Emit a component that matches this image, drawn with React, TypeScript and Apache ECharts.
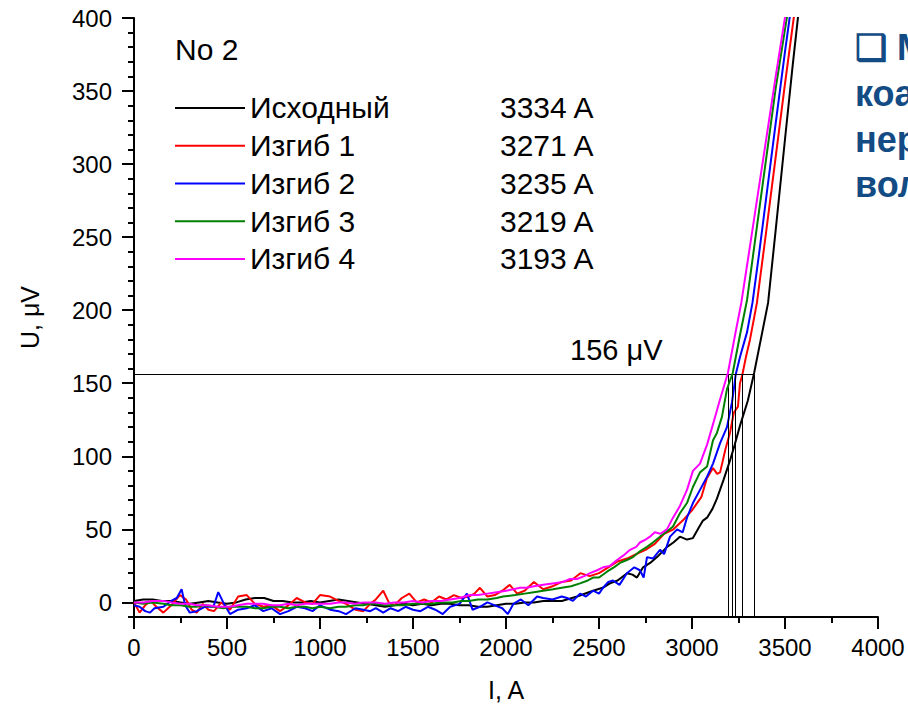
import React, { useEffect, useRef } from "react";
import * as echarts from "echarts";

// ---- data ----
const seriesNames = ["Исходный", "Изгиб 1", "Изгиб 2", "Изгиб 3", "Изгиб 4"];
const criticalCurrents = [3334, 3271, 3235, 3219, 3193];
const seriesColors = ["#000000", "#ff0000", "#0000ff", "#008000", "#ff00ff"];
const criterionLevel = 156;
const criterionLabel = "156 μV";
const panelTitle = "No 2";
const sideText = ["❑ М", "коа", "нер", "вол"];

const yMajorTicks = [0, 50, 100, 150, 200, 250, 300, 350, 400];
const yMinorTicks = [-10, 10, 20, 30, 40, 60, 70, 80, 90, 110, 120, 130, 140, 160, 170, 180, 190, 210, 220, 230, 240, 260, 270, 280, 290, 310, 320, 330, 340, 360, 370, 380, 390];

const initialData = [
  [0, 1], [50, 2], [100, 2], [150, 1], [200, 1], [250, 0], [300, -1], [350, 0], [400, 1], [450, 0], [500, -1], [550, 0], [600, 2], [650, 3], [700, 3], [750, 1], [800, 1], [850, 0], [900, 0], [950, 1], [1000, 0], [1050, 1], [1100, 2], [1150, 1], [1200, 0], [1250, -1], [1300, -2], [1350, -3], [1400, -2], [1450, -1], [1500, -2], [1550, -1], [1600, -2], [1650, -1], [1700, -1], [1750, -2], [1800, -2], [1850, -3], [1900, -3], [1950, -2], [2000, -1], [2050, -1], [2100, 0], [2150, 0], [2200, 1], [2250, 1], [2300, 1], [2382, 4], [2468, 8], [2520, 10], [2559, 13], [2600, 15], [2651, 20], [2680, 19], [2704, 17], [2737, 24], [2775, 27], [2812, 31], [2866, 38], [2900, 41], [2935, 45], [2973, 43], [3005, 44], [3040, 52], [3059, 56], [3081, 58], [3110, 64], [3134, 71], [3170, 84], [3204, 97], [3230, 108], [3258, 121], [3300, 138], [3334, 157], [3370, 180], [3409, 205], [3450, 255], [3500, 317], [3540, 366], [3572, 403],
];

const bend1Data = [
  [0, 0], [30, -7], [60, -2], [90, 1], [120, -3], [158, -7], [200, -2], [247, 5], [280, 2], [310, -5], [337, -7], [370, -1], [400, -5], [430, -6], [470, 0], [516, -5], [560, 4], [606, 5], [650, -1], [695, -3], [740, -2], [785, -6], [830, -2], [875, 3], [920, 0], [960, -1], [1000, 5], [1054, 4], [1100, 1], [1140, -1], [1190, -5], [1233, -6], [1270, -1], [1300, 2], [1340, 8], [1370, 0], [1400, -2], [1440, 3], [1480, 6], [1520, 0], [1560, 2], [1600, 0], [1640, 4], [1680, 2], [1720, 5], [1760, 3], [1800, 4], [1830, 6], [1860, 10], [1900, 4], [1940, 5], [1980, 8], [2020, 12], [2060, 6], [2100, 8], [2150, 14], [2200, 9], [2250, 11], [2300, 14], [2350, 15], [2400, 20], [2450, 18], [2500, 20], [2550, 24], [2600, 28], [2650, 30], [2700, 33], [2750, 36], [2800, 40], [2850, 47], [2900, 50], [2950, 56], [3000, 63], [3050, 72], [3080, 85], [3113, 92], [3135, 88], [3151, 89], [3180, 105], [3204, 116], [3225, 130], [3247, 134], [3258, 150], [3271, 156], [3290, 168], [3312, 180], [3349, 205], [3400, 255], [3450, 305], [3500, 355], [3549, 402],
];

const bend2Data = [
  [0, -2], [30, -3], [60, -6], [86, -7], [110, -4], [158, -3], [200, 1], [230, 3], [256, 9], [275, -2], [300, -7], [337, -6], [380, -3], [427, -3], [453, 7], [480, 0], [516, -8], [560, -5], [606, -4], [650, -2], [695, -6], [740, -4], [785, -8], [830, -6], [875, -3], [920, -4], [960, -6], [1000, -2], [1054, -5], [1100, -6], [1140, -8], [1190, -4], [1233, -5], [1270, -6], [1300, -4], [1340, -7], [1380, -4], [1420, -6], [1460, -3], [1500, -5], [1540, -6], [1580, -3], [1620, -5], [1660, -8], [1700, -3], [1750, -1], [1790, 6], [1820, -5], [1860, -3], [1900, 0], [1940, -2], [1980, -4], [2010, -8], [2040, -1], [2080, 2], [2120, -2], [2167, 4], [2200, 3], [2250, 2], [2300, 4], [2328, 3], [2360, 1], [2398, 6], [2430, 4], [2468, 8], [2500, 6], [2522, 10], [2550, 14], [2575, 15], [2610, 12], [2650, 20], [2690, 24], [2720, 22], [2740, 17], [2758, 31], [2790, 30], [2828, 36], [2850, 33], [2882, 45], [2920, 50], [2950, 48], [2973, 58], [3005, 68], [3043, 77], [3081, 86], [3113, 95], [3151, 109], [3188, 120], [3215, 137], [3226, 147], [3235, 156], [3258, 168], [3296, 185], [3325, 205], [3360, 238], [3400, 278], [3450, 328], [3500, 377], [3527, 402],
];

const bend3Data = [
  [0, 0], [50, -1], [100, 0], [158, -1], [200, -2], [250, -2], [300, -3], [337, -3], [380, -2], [430, -3], [480, -4], [516, -3], [560, -3], [606, -3], [650, -4], [695, -4], [740, -3], [785, -3], [830, -4], [875, -3], [920, -3], [960, -4], [1000, -3], [1054, -4], [1100, -3], [1140, -3], [1190, -2], [1233, -2], [1270, -1], [1300, -1], [1350, -2], [1400, -2], [1446, -2], [1500, -1], [1550, -1], [1600, -1], [1650, 0], [1715, 0], [1760, 1], [1800, 1], [1850, 2], [1900, 2], [1950, 3], [1984, 4], [2050, 5], [2100, 6], [2150, 7], [2200, 8], [2253, 9], [2300, 10], [2350, 11], [2398, 13], [2440, 15], [2468, 17], [2500, 17], [2543, 21], [2580, 24], [2613, 27], [2650, 29], [2683, 31], [2720, 35], [2758, 38], [2790, 41], [2828, 45], [2860, 48], [2898, 52], [2935, 61], [2973, 68], [3005, 79], [3043, 89], [3081, 93], [3113, 111], [3134, 116], [3161, 127], [3188, 146], [3219, 157], [3258, 183], [3296, 207], [3350, 258], [3400, 305], [3450, 352], [3512, 402],
];

const bend4Data = [
  [0, 0], [50, 0], [100, 1], [158, 1], [200, 0], [250, -1], [300, -1], [337, -2], [400, -2], [450, -3], [516, -3], [560, -2], [606, -1], [650, -1], [695, -1], [740, -2], [785, -2], [830, -1], [875, -2], [920, -1], [960, -1], [1000, -1], [1054, -1], [1100, 0], [1140, 0], [1190, -1], [1233, 0], [1270, 0], [1300, 0], [1350, -1], [1400, 0], [1450, 0], [1500, 1], [1550, 0], [1600, 1], [1650, 1], [1700, 2], [1750, 3], [1806, 5], [1850, 5], [1900, 6], [1950, 7], [2000, 8], [2040, 9], [2075, 10], [2110, 10], [2150, 11], [2200, 12], [2250, 13], [2306, 14], [2344, 16], [2382, 16], [2420, 18], [2452, 20], [2490, 22], [2522, 24], [2559, 25], [2597, 29], [2630, 32], [2667, 36], [2700, 38], [2720, 41], [2750, 43], [2774, 45], [2800, 48], [2830, 47], [2865, 50], [2898, 58], [2935, 66], [2973, 77], [3005, 90], [3043, 95], [3081, 108], [3113, 122], [3151, 139], [3193, 157], [3230, 182], [3265, 205], [3300, 234], [3350, 276], [3400, 318], [3450, 360], [3502, 402],
];

const allData = [initialData, bend1Data, bend2Data, bend3Data, bend4Data];

const FONT = "'Liberation Sans', Arial, sans-serif";

export default function App() {
  const ref = useRef<HTMLDivElement>(null);

  useEffect(() => {
    if (!ref.current) return;
    const chart = echarts.init(ref.current, null, { renderer: "svg" });

    const tickStyle = { color: "#000", width: 2 };
    const lineSeries = allData.map((d, i) => ({
      name: seriesNames[i],
      type: "line",
      data: d,
      symbol: "none",
      showSymbol: false,
      clip: true,
      lineStyle: { color: seriesColors[i], width: 2 },
      itemStyle: { color: seriesColors[i] },
      z: 2 + i,
    }));

    const maxIc = Math.max(...criticalCurrents);
    const markData: any[] = [
      [{ coord: [0, criterionLevel] }, { coord: [maxIc, criterionLevel] }],
      ...criticalCurrents.map((c) => [{ coord: [c, criterionLevel] }, { coord: [c, -10] }]),
    ];

    const option: any = {
      animation: false,
      backgroundColor: "#ffffff",
      grid: { left: 134, top: 18, right: 30, bottom: 92, containLabel: false },
      legend: {
        orient: "vertical",
        left: 170,
        top: 84,
        icon: "rect",
        itemWidth: 70,
        itemHeight: 2,
        itemGap: 0,
        data: seriesNames,
        formatter: (name: string) => {
          const idx = seriesNames.indexOf(name);
          return `{n|${name}}{v|${criticalCurrents[idx]} A}`;
        },
        textStyle: {
          fontFamily: FONT,
          fontSize: 30,
          color: "#000",
          lineHeight: 37.75,
          rich: {
            n: { width: 250, fontSize: 30, fontFamily: FONT, color: "#000", lineHeight: 37.75 },
            v: { fontSize: 30, fontFamily: FONT, color: "#000", lineHeight: 37.75 },
          },
        },
      },
      xAxis: {
        type: "value",
        min: 0,
        max: 4000,
        interval: 500,
        name: "I, A",
        nameLocation: "middle",
        nameGap: 60,
        nameTextStyle: { fontFamily: FONT, fontSize: 25, color: "#000" },
        axisLine: { show: true, onZero: false, lineStyle: tickStyle },
        axisTick: { show: true, length: 12, lineStyle: tickStyle },
        minorTick: { show: true, splitNumber: 2, length: 6, lineStyle: tickStyle },
        splitLine: { show: false },
        minorSplitLine: { show: false },
        axisLabel: { color: "#000", fontSize: 24, fontFamily: FONT, margin: 18, formatter: (v: number) => String(v) },
      },
      yAxis: [
        {
          type: "value",
          min: -10,
          max: 400,
          position: "left",
          name: "U, μV",
          nameLocation: "middle",
          nameGap: 92,
          nameRotate: 90,
          nameTextStyle: { fontFamily: FONT, fontSize: 25, color: "#000" },
          axisLine: { show: true, onZero: false, lineStyle: tickStyle },
          axisTick: { show: true, length: 12, lineStyle: tickStyle, customValues: yMajorTicks },
          axisLabel: { color: "#000", fontSize: 24, fontFamily: FONT, margin: 22, customValues: yMajorTicks, formatter: (v: number) => String(v) },
          splitLine: { show: false },
        },
        {
          type: "value",
          min: -10,
          max: 400,
          position: "left",
          axisLine: { show: false },
          axisTick: { show: true, length: 6, lineStyle: tickStyle, customValues: yMinorTicks },
          axisLabel: { show: false },
          splitLine: { show: false },
        },
      ],
      series: [
        {
          name: "criterion",
          type: "line",
          data: [],
          z: 10,
          markLine: {
            silent: true,
            symbol: ["none", "none"],
            label: { show: false },
            lineStyle: { color: "#000", width: 1, type: "solid" },
            data: markData,
          },
        },
        ...lineSeries,
      ],
      graphic: [
        {
          type: "text",
          x: 175,
          y: 49,
          style: { text: panelTitle, fontFamily: FONT, fontSize: 30, fill: "#000", verticalAlign: "middle" },
        },
        {
          type: "text",
          x: 570,
          y: 350,
          style: { text: criterionLabel, fontFamily: FONT, fontSize: 29, fill: "#000", verticalAlign: "middle" },
        },
        ...sideText.map((t, i) => ({
          type: "text",
          x: 855,
          y: [47, 93, 139, 184][i],
          style: { text: t, fontFamily: FONT, fontSize: 36, fontWeight: "bold", fill: "#134b84", verticalAlign: "middle" },
        })),
      ],
    };

    chart.setOption(option);
    return () => chart.dispose();
  }, []);

  return (
    <div
      ref={ref}
      style={{ position: "fixed", left: 0, top: 0, width: 908, height: 709, background: "#fff" }}
    />
  );
}
